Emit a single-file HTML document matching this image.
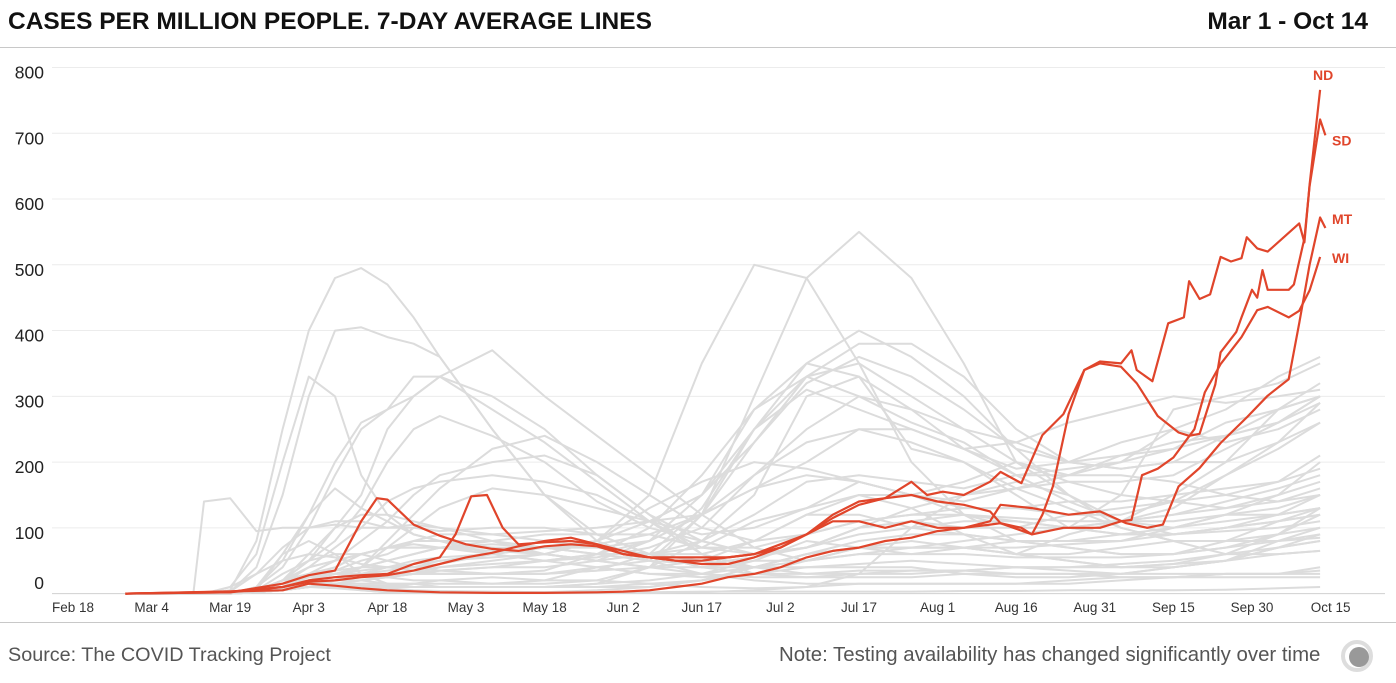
<!DOCTYPE html>
<html><head><meta charset="utf-8">
<style>
html,body{margin:0;padding:0;background:#fff;}
body{width:1396px;height:683px;overflow:hidden;position:relative;font-family:"Liberation Sans",sans-serif;}
.t{position:absolute;font-weight:bold;font-size:24.5px;color:#111;top:8px;}
.f{position:absolute;font-size:19.8px;color:#555;top:644px;}
</style></head>
<body>
<div class="t" style="left:8px;">CASES PER MILLION PEOPLE. 7-DAY AVERAGE LINES</div>
<div class="t" style="right:28px;">Mar 1 - Oct 14</div>
<div style="position:absolute;left:0;top:47px;width:1396px;height:1px;background:#c8c8c8;"></div>
<svg id="chart" width="1396" height="683" style="position:absolute;left:0;top:0;"></svg>
<div style="position:absolute;left:0;top:622px;width:1396px;height:1px;background:#c8c8c8;"></div>
<div class="f" style="left:8px;">Source: The COVID Tracking Project</div>
<div class="f" style="left:779px;font-size:20.4px;">Note: Testing availability has changed significantly over time</div>
<svg width="34" height="34" style="position:absolute;left:1340px;top:639px;">
<circle cx="17" cy="17" r="14" fill="none" stroke="#ddd" stroke-width="4"/>
<circle cx="19" cy="18" r="10" fill="#999"/>
</svg>
<script>
const yTicks=[0,100,200,300,400,500,600,700,800];
const xTickLabels=["Feb 18","Mar 4","Mar 19","Apr 3","Apr 18","May 3","May 18","Jun 2","Jun 17","Jul 2","Jul 17","Aug 1","Aug 16","Aug 31","Sep 15","Sep 30","Oct 15"];
const xTickDays=[0,15,30,45,60,75,90,105,120,135,150,165,180,195,210,225,240];
const grayDays=[10,23,25,30,35,40,45,50,55,60,65,70,80,90,100,110,120,130,140,150,160,170,180,190,200,210,220,230,238];
const grayNY=[0,0,0,5,80,250,400,480,495,470,420,360,250,150,80,50,30,25,25,30,30,35,40,40,40,45,50,60,65];
const grayNJ=[0,0,0,3,40,150,300,400,405,390,380,360,250,150,90,60,40,30,30,35,35,35,40,40,45,50,60,70,80];
const grayLA=[0,0,0,10,60,200,330,300,180,120,90,80,70,60,50,60,80,150,300,330,220,200,150,100,90,100,110,120,130];
const graySpike=[0,2,140,145,95,100,100,105,100,100,105,100,90,80,70,60,50,40,40,45,50,45,40,35,30,30,30,30,35];
const grayCT=[0,0,0,0,10,50,120,200,260,280,300,330,300,250,180,120,60,40,30,30,35,35,30,30,30,40,50,80,100];
const grayMA=[0,0,0,0,10,40,100,180,250,280,330,330,280,230,170,110,60,30,25,25,25,30,25,25,30,40,50,70,90];
const grayRI=[0,0,0,0,5,20,50,100,150,250,300,330,370,300,240,180,120,70,50,60,70,80,90,100,110,150,200,280,320];
const grayIL=[0,0,0,0,2,10,30,50,80,110,150,180,200,210,180,120,80,60,70,100,130,150,160,170,170,180,220,260,300];
const grayMD=[0,0,0,0,3,15,40,70,100,140,160,170,180,170,150,110,70,60,70,100,110,120,110,100,90,90,95,100,110];
const grayDE=[0,0,0,0,5,20,50,80,130,200,250,270,240,200,140,100,80,60,70,90,100,110,110,100,110,120,140,160,180];
const grayNE=[0,0,0,0,2,5,10,20,40,80,120,160,220,240,200,150,100,80,90,110,120,130,130,120,120,140,180,230,290];
const grayIA=[0,0,0,0,2,5,10,20,40,70,100,130,160,150,130,110,90,100,130,150,150,140,160,180,200,250,230,250,280];
const grayCO=[0,0,0,3,30,70,100,110,110,100,100,95,100,100,90,60,40,40,50,70,80,70,60,60,70,80,80,90,100];
const grayAZ=[0,0,0,0,2,5,10,15,20,25,30,40,50,60,80,150,350,500,480,350,200,120,80,70,60,60,80,110,130];
const grayFL=[0,0,0,0,5,15,25,30,30,30,30,30,30,30,40,50,120,300,480,550,480,350,200,150,110,110,120,120,130];
const grayMS=[0,0,0,0,5,20,40,50,60,70,80,90,90,95,100,110,150,250,350,400,360,300,220,200,190,200,240,280,300];
const grayAL=[0,0,0,0,5,15,25,30,35,40,45,50,60,70,80,110,150,230,330,380,380,330,250,200,190,200,200,230,260];
const grayTX=[0,0,0,0,2,5,10,15,20,25,30,35,40,40,50,80,150,280,330,350,300,250,200,170,150,140,130,140,160];
const grayGA=[0,0,0,0,5,20,40,50,60,70,70,70,70,70,70,80,120,230,320,360,330,280,220,150,110,90,100,110,120];
const graySC=[0,0,0,0,2,10,20,25,30,30,30,30,30,35,60,100,180,280,350,330,280,220,180,180,180,170,150,140,150];
const grayTN=[0,0,0,0,5,20,30,35,40,40,40,45,60,70,75,90,120,180,250,300,280,250,230,200,210,220,240,260,300];
const grayNV=[0,0,0,0,5,30,50,60,60,50,40,35,30,30,35,60,130,250,330,300,260,230,180,140,110,100,120,130,150];
const grayID=[0,0,0,0,10,60,80,60,30,15,10,10,10,10,15,40,120,250,310,280,250,220,190,200,230,250,280,330,360];
const grayUT=[0,0,0,0,5,20,30,30,30,35,40,50,55,60,80,130,170,200,190,170,150,120,100,100,150,280,300,320,350];
const grayVT=[0,0,0,0,5,15,20,15,10,8,5,4,3,2,2,2,3,3,3,3,3,4,4,5,5,5,6,8,10];
const grayME=[0,0,0,0,2,8,10,10,12,12,15,20,25,20,20,15,10,8,10,15,15,15,15,20,25,25,30,30,30];
const grayHI=[0,0,0,0,2,5,10,10,5,2,1,1,1,1,1,1,2,5,10,30,100,150,170,150,100,80,60,60,65];
const grayOR=[0,0,0,0,2,5,10,10,10,10,10,10,10,10,15,20,30,40,60,70,70,70,60,50,40,40,50,70,80];
const grayWA=[0,0,0,10,30,50,60,55,45,40,35,30,30,30,35,40,50,80,120,120,100,90,80,70,60,60,70,80,90];
const grayNH=[0,0,0,0,3,10,25,40,60,70,75,70,65,60,50,40,30,20,15,15,15,15,15,15,20,25,30,30,40];
const grayMI=[0,0,0,0,5,60,120,160,130,110,90,80,60,50,40,30,25,30,50,70,70,70,70,75,80,90,100,120,150];
const grayPA=[0,0,0,0,5,20,60,100,120,120,110,100,80,60,50,40,40,50,50,60,60,60,55,55,55,60,70,90,120];
const grayIN=[0,0,0,0,5,15,30,40,60,70,70,70,75,70,60,50,45,55,70,100,110,100,100,120,130,140,150,170,210];
const grayCA=[0,0,0,0,5,10,20,25,30,30,35,40,45,50,55,70,100,180,230,250,230,200,160,130,100,80,80,80,85];
const grayVA=[0,0,0,0,3,10,20,30,40,50,60,70,80,90,90,90,70,70,90,110,120,120,115,110,110,120,130,150,170];
const grayNC=[0,0,0,0,3,10,20,25,30,40,50,55,60,70,80,110,120,160,180,170,150,130,130,140,140,150,160,170,190];
const grayOK=[0,0,0,0,3,8,15,20,20,15,15,15,15,15,20,40,80,120,170,180,170,160,180,190,200,220,260,280,300];
const grayKS=[0,0,0,0,3,8,20,30,40,50,60,70,60,50,60,60,70,110,130,170,150,170,200,180,210,230,240,260,290];
const grayAR=[0,0,0,0,3,10,20,25,25,25,30,35,40,50,60,80,120,160,200,250,250,220,230,260,280,300,290,300,310];
const grayWY=[0,0,0,0,3,8,15,20,25,25,20,20,15,20,40,30,30,50,80,70,60,70,60,90,110,130,180,220,260];
const grayNM=[0,0,0,0,3,10,20,35,50,60,80,80,80,70,60,60,60,80,120,150,130,90,60,50,40,45,60,90,130];
const grayAK=[0,0,0,0,3,8,10,8,5,2,2,2,2,2,5,10,20,40,60,80,90,90,80,80,80,100,120,150,200];
const grayWV=[0,0,0,0,2,5,10,15,15,15,15,10,10,10,10,15,20,40,60,70,70,70,80,80,90,90,100,110,120];
const grayPR=[0,0,0,0,5,10,15,15,15,15,10,10,10,10,10,10,20,30,40,40,40,30,30,30,25,25,25,25,25];
const graySeries=[grayNY,grayNJ,grayLA,graySpike,grayCT,grayMA,grayRI,grayIL,grayMD,grayDE,grayNE,grayIA,grayCO,grayAZ,grayFL,grayMS,grayAL,grayTX,grayGA,graySC,grayTN,grayNV,grayID,grayUT,grayVT,grayME,grayHI,grayOR,grayWA,grayNH,grayMI,grayPA,grayIN,grayCA,grayVA,grayNC,grayOK,grayKS,grayAR,grayWY,grayNM,grayAK,grayWV,grayPR];

const ndDays=[10,30,40,45,50,55,60,65,70,73,76,79,82,85,90,95,100,105,110,115,120,125,130,135,140,145,150,155,160,163,166,170,175,177,181,185,189,193,196,200,202,203,206,209,212,213,215,217,219,221,223,224,226,228,234,235,236,238];
const ndVals=[0,2,10,20,25,28,30,45,55,90,148,150,100,75,78,80,75,60,55,55,55,55,60,75,90,115,135,145,170,150,155,150,170,185,168,241,273,340,353,350,370,340,323,411,420,475,448,455,512,505,510,542,525,520,563,534,622,766];
const sdDays=[10,30,40,45,50,55,58,60,65,70,75,80,85,90,95,100,105,110,115,120,125,130,135,140,145,150,155,160,165,170,175,177,181,183,185,187,190,193,196,200,203,207,211,213,215,218,219,222,223,225,226,227,228,232,233,235,236,238,239];
const sdVals=[0,2,15,28,35,110,145,143,105,88,75,68,65,72,75,72,60,55,50,50,55,60,70,90,120,140,145,150,140,135,125,107,100,90,120,163,273,340,350,345,320,270,245,240,243,318,367,398,420,462,450,492,462,462,470,540,620,721,697];
const wiDays=[10,30,40,45,50,55,60,65,70,75,80,85,90,95,100,105,110,115,120,125,130,135,140,145,150,155,160,165,170,175,177,183,189,196,200,202,204,207,210,214,216,219,223,226,228,232,234,236,238];
const wiVals=[0,3,10,18,20,25,28,35,45,55,62,72,80,85,75,65,55,50,45,45,55,70,90,110,110,100,110,100,100,105,107,90,100,100,110,112,180,190,207,250,306,349,390,431,436,420,430,461,512];
const mtDays=[10,40,45,50,55,60,70,80,90,100,105,110,115,120,125,130,135,140,145,150,155,160,165,170,175,177,183,190,196,201,205,208,211,215,219,224,228,232,234,236,238,239];
const mtVals=[0,5,15,12,8,5,2,1,1,2,3,5,10,15,25,30,40,55,65,70,80,85,95,100,110,135,130,120,125,107,100,105,163,191,229,268,301,326,411,500,572,556];
const redSeries=[["nd",ndDays,ndVals],["sd",sdDays,sdVals],["wi",wiDays,wiVals],["mt",mtDays,mtVals]];
const redLabels=[["ND",ndVals],["SD",sdVals],["MT",mtVals],["WI",wiVals]];

const NS="http://www.w3.org/2000/svg";
const svg=document.getElementById('chart');
const X0=73,PXD=5.24,Y0=593.6,PXV=0.6576;
function xs(d){return X0+d*PXD;}
function ys(v){return Y0-v*PXV;}
function mk(tag,attrs){const e=document.createElementNS(NS,tag);for(const k in attrs)e.setAttribute(k,attrs[k]);svg.appendChild(e);return e;}

yTicks.forEach(function(v){
  if(v>0){
    const g=mk('line',{x1:52,x2:1385,y1:ys(v),y2:ys(v),stroke:'#ececec','stroke-width':1});
    
    
  }
  const t=mk('text',{x:44,y:v===0?589:ys(v)+11,'text-anchor':'end','font-size':17.5,fill:'#222','font-family':'Liberation Sans, sans-serif'});
  t.textContent=String(v);
  
  
});
const ax=mk('line',{x1:52,x2:1385,y1:Y0,y2:Y0,stroke:'#d0d0d0','stroke-width':1});


xTickLabels.forEach(function(l,i){
  const t=mk('text',{x:xs(xTickDays[i]),y:612,'text-anchor':'middle','font-size':13.5,fill:'#333','font-family':'Liberation Sans, sans-serif'});
  t.textContent=l;
  
  
});
function pts(days,vals){return vals.map(function(v,i){return xs(days[i]).toFixed(1)+','+ys(v).toFixed(1);}).join(' ');}
graySeries.forEach(function(s,i){
  const p=mk('polyline',{points:pts(grayDays,s),fill:'none',stroke:'#dcdcdc','stroke-width':2,'stroke-linejoin':'round'});
  
  
});
redSeries.forEach(function(r){
  const p=mk('polyline',{points:pts(r[1],r[2]),fill:'none',stroke:'#e0452b','stroke-width':2.2,'stroke-linejoin':'round'});
  
  
});
redLabels.forEach(function(r){
  const last=r[1][r[1].length-1];
  let yy=ys(last);
  let xx=1332;
  if(r[0]==='ND'){yy=ys(last)-10;xx=1313;}
  if(r[0]==='SD')yy=ys(last)+10;
  if(r[0]==='MT')yy=ys(last)-4;
  if(r[0]==='WI')yy=ys(last)+6;
  const t=mk('text',{x:xx,y:yy,'font-size':14,'font-weight':'bold',fill:'#e0452b','font-family':'Liberation Sans, sans-serif'});
  t.textContent=r[0];
  
  
});
</script>
</body></html>
